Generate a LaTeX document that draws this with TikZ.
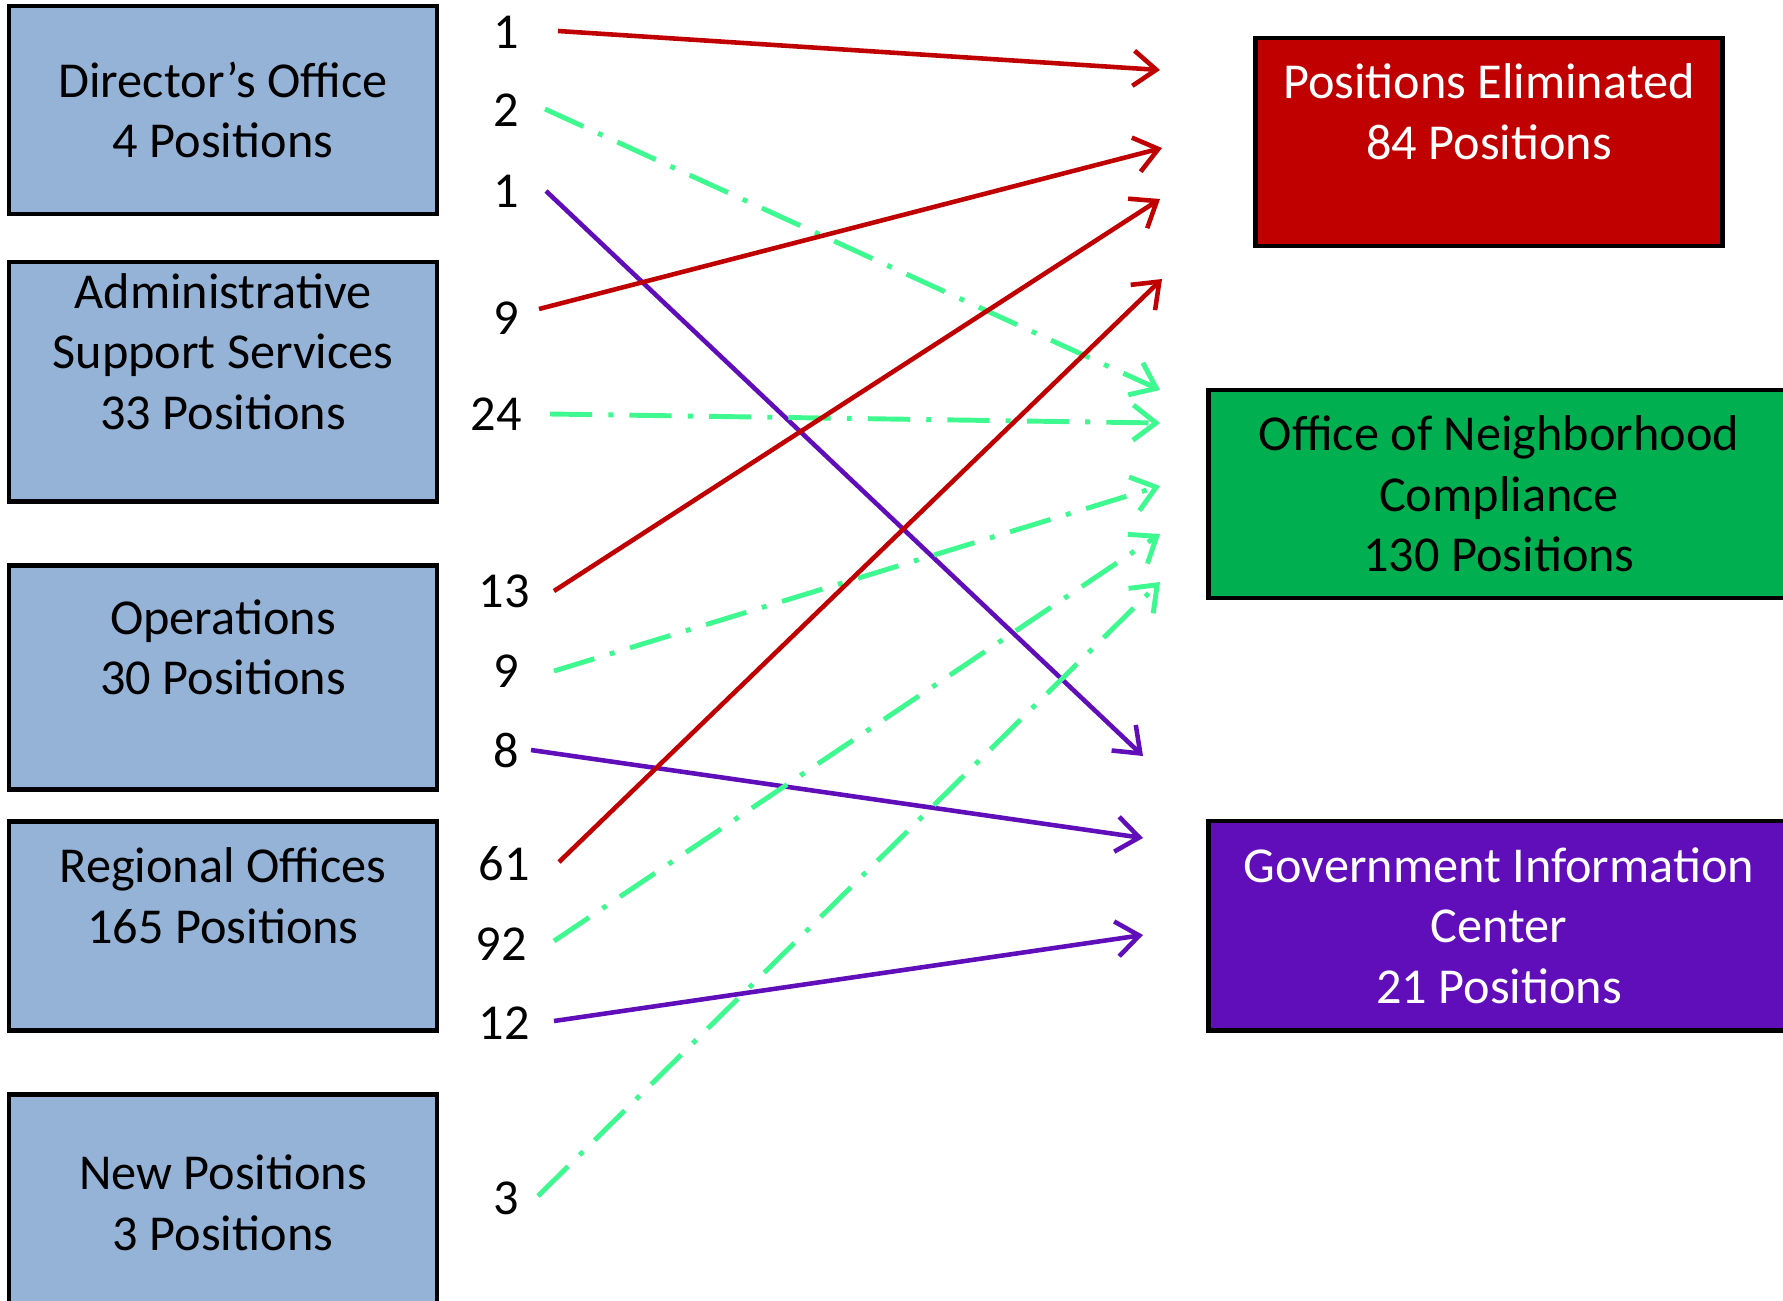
\documentclass[tikz,border=0pt]{standalone}
\usepackage{fontspec}
\setmainfont{Carlito}
\usetikzlibrary{arrows.meta,positioning}

\definecolor{deptblue}{RGB}{149,179,215}
\definecolor{elimred}{RGB}{192,0,0}
\definecolor{oncgreen}{RGB}{0,176,80}
\definecolor{oncline}{RGB}{62,249,143}
\definecolor{gicpurple}{RGB}{96,14,186}

\tikzset{
	dept/.style={draw=black, line width=1.3pt, fill=deptblue, align=center, inner sep=0pt, outer sep=0pt, minimum width=4.28cm},
	unit/.style={draw=black, line width=1.3pt, align=center, inner sep=0pt, outer sep=0pt, minimum height=2.08cm},
	toelim/.style={->, draw=elimred, line width=1.3pt},
	toonc/.style={->, draw=oncline, line width=1.4pt, dash pattern=on 12pt off 4.6pt on 1.4pt off 4.6pt},
	togic/.style={->, draw=gicpurple, line width=1.3pt}
}

\begin{document}
\begin{tikzpicture}[x=0.01cm, y=-0.01cm, font={\fontsize{14.3}{17.2}\selectfont}, >={Straight Barb[length=6.5pt,width=10pt]}]
	\useasboundingbox (0,0) rectangle (1783,1300);
	\clip (0,0) rectangle (1783,1300);

	% departments
	\node[dept, minimum height=2.08cm] (dir) at (223,110) {Director’s Office\\4 Positions};
	\node[dept, minimum height=2.39cm, below=0.48cm of dir] (adm) {Administrative\\Support Services\\33 Positions\\\mbox{}};
	\node[dept, minimum height=2.24cm, below=0.64cm of adm] (ops) {Operations\\30 Positions\\\mbox{}};
	\node[dept, minimum height=2.09cm, below=0.32cm of ops] (reg) {Regional Offices\\165 Positions\\\mbox{}};
	\node[dept, minimum height=2.16cm, below=0.64cm of reg] (new) {New Positions\\3 Positions};

	% destinations
	\node[unit, fill=elimred, text=white, minimum width=4.67cm] (elim) at (1489,142) {Positions Eliminated\\84 Positions\\\mbox{}};
	\node[unit, fill=oncgreen, minimum width=5.81cm] (onc) at (1499,494) {Office of Neighborhood\\Compliance\\130 Positions};
	\node[unit, fill=gicpurple, text=white, minimum width=5.81cm, minimum height=2.09cm, below=2.23cm of onc] (gic) {Government Information\\Center\\21 Positions};

	% counts
	\node (n1) at (506,32) {1};
	\node (n2) at (506,110) {2};
	\node (n3) at (506,191) {1};
	\node (n4) at (506,318) {9};
	\node (n5) at (496,414) {24};
	\node (n6) at (504,591) {13};
	\node (n7) at (506,671) {9};
	\node (n8) at (506,750) {8};
	\node (n9) at (504,864) {61};
	\node (n10) at (501,944) {92};
	\node (n11) at (504,1023) {12};
	\node (n12) at (506,1198) {3};

	% arrow ends
	\coordinate (s1) at (558,31);   \coordinate (e1) at (1160,70);
	\coordinate (s2) at (545,109);  \coordinate (e2) at (1160,390);
	\coordinate (s3) at (546,191);  \coordinate (e3) at (1143,756);
	\coordinate (s4) at (539,309);  \coordinate (e4) at (1162,148);
	\coordinate (s5) at (550,414);  \coordinate (e5) at (1160,423);
	\coordinate (s6) at (554,591);  \coordinate (e6) at (1160,199);
	\coordinate (s7) at (554,671);  \coordinate (e7) at (1160,486);
	\coordinate (s8) at (531,750);  \coordinate (e8) at (1143,838);
	\coordinate (s9) at (559,862);  \coordinate (e9) at (1162,279);
	\coordinate (s10) at (554,941); \coordinate (e10) at (1160,534);
	\coordinate (s11) at (554,1021); \coordinate (e11) at (1143,935);
	\coordinate (s12) at (538,1196); \coordinate (e12) at (1160,582);

	\path
		(s1) edge[toelim] (e1)
		(s2) edge[toonc] (e2)
		(s3) edge[togic] (e3)
		(s4) edge[toelim] (e4)
		(s5) edge[toonc] (e5)
		(s6) edge[toelim] (e6)
		(s7) edge[toonc] (e7)
		(s8) edge[togic] (e8)
		(s9) edge[toelim] (e9)
		(s10) edge[toonc] (e10)
		(s11) edge[togic] (e11)
		(s12) edge[toonc] (e12);
\end{tikzpicture}
\end{document}
